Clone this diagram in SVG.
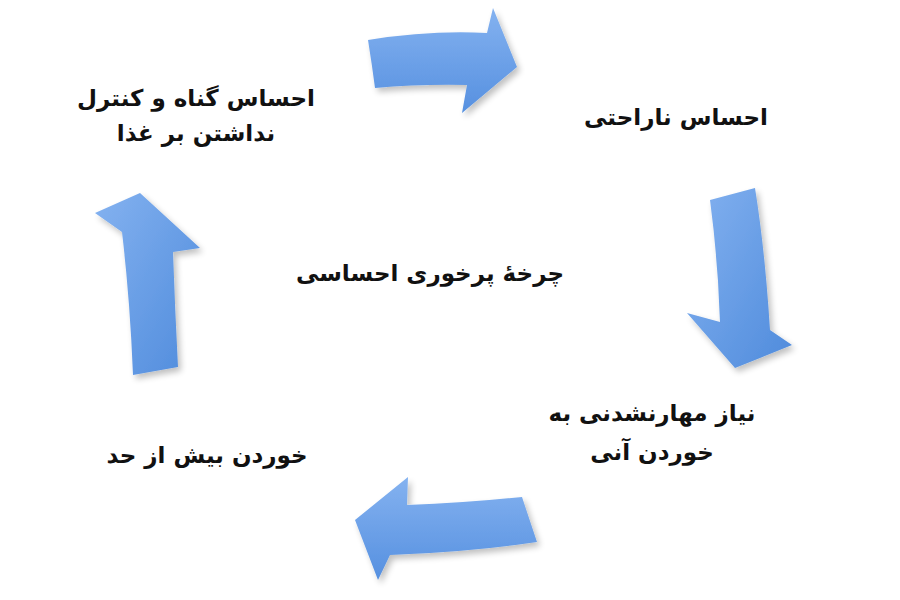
<svg xmlns="http://www.w3.org/2000/svg" width="900" height="600" viewBox="0 0 900 600">
<defs>
<linearGradient id="gh" x1="0" y1="0" x2="0" y2="1"><stop offset="0" stop-color="#84b2f0"/><stop offset="1" stop-color="#5690e0"/></linearGradient>
<linearGradient id="gv" x1="0" y1="0" x2="1" y2="1"><stop offset="0" stop-color="#84b2f0"/><stop offset="1" stop-color="#4f8bdc"/></linearGradient>
<filter id="sh" x="-20%" y="-20%" width="150%" height="150%"><feGaussianBlur in="SourceAlpha" stdDeviation="3"/><feOffset dx="3" dy="4"/><feComponentTransfer><feFuncA type="linear" slope="0.25"/></feComponentTransfer><feMerge><feMergeNode/><feMergeNode in="SourceGraphic"/></feMerge></filter>
<style>
.t{font-family:"DejaVu Sans",sans-serif;font-weight:bold;font-size:23px;fill:#111;text-anchor:middle;direction:rtl}
.a{filter:url(#sh)}
</style>
</defs>
<rect width="900" height="600" fill="#fff"/>
<g id="connectors">
<path class="a" fill="url(#gh)" d="M368,40 Q430,30 487,33 L493,8 L517,67 L462,113 L467,85 Q420,84 375,88 Q372,65 368,40 Z"/>
<path class="a" fill="url(#gv)" d="M710,200 L755,188 Q765,250 770,330 L792,345 L735,368 L687,313 L720,322 Q718,260 710,200 Z"/>
<path class="a" fill="url(#gh)" d="M522,497 L537,542 Q470,552 390,555 L378,580 L355,520 L408,477 L407,505 Q465,503 522,497 Z"/>
<path class="a" fill="url(#gv)" d="M133,375 Q130,300 122,232 L95,213 L140,193 L200,248 L173,252 Q175,310 178,367 Z"/>
</g>
<g id="guilt"><text class="t" x="196" y="106">احساس گناه و کنترل</text><text class="t" x="196" y="141">نداشتن بر غذا</text></g>
<g id="discomfort"><text class="t" x="676" y="125">احساس ناراحتی</text></g>
<g id="center"><text class="t" x="430" y="281">چرخهٔ پرخوری احساسی</text></g>
<g id="urge"><text class="t" x="652" y="421">نیاز مهارنشدنی به</text><text class="t" x="652" y="460">خوردن آنی</text></g>
<g id="overeat"><text class="t" x="207" y="463">خوردن بیش از حد</text></g>
</svg>
